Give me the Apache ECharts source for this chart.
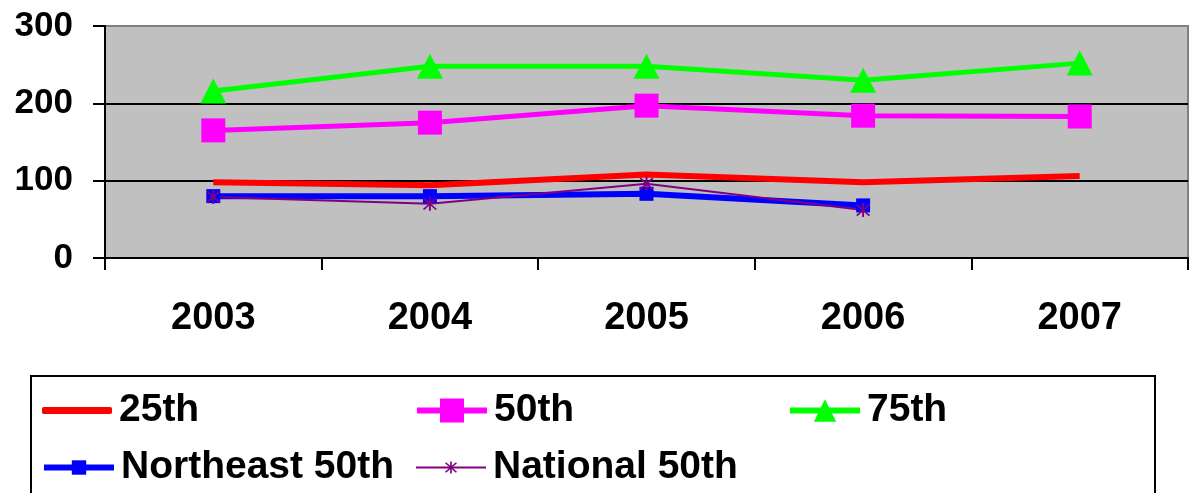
<!DOCTYPE html>
<html>
<head>
<meta charset="utf-8">
<script src="https://cdn.jsdelivr.net/npm/echarts@6/dist/echarts.min.js"></script>
<style>
html,body{margin:0;padding:0;background:#fff;}
#chart{width:1189px;height:493px;}
</style>
</head>
<body>
<div id="chart"></div>
<script>
const categories = ['2003', '2004', '2005', '2006', '2007'];
const p25 = [98, 94, 108, 98, 106];
const p50 = [165, 175, 197, 184, 183];
const p75 = [216, 248, 248, 230, 252];
const northeast50 = [80, 80, 83, 68, null];
const national50 = [79, 70, 96, 62, null];
const yTicks = [0, 100, 200, 300];

const FONT = '"Liberation Sans", Arial, sans-serif';
const asterisk = 'path://M4.4,0 L5.6,0 L5.6,10 L4.4,10 Z M0.6,1.4 L1.4,0.6 L9.4,8.6 L8.6,9.4 Z M8.6,0.6 L9.4,1.4 L1.4,9.4 L0.6,8.6 Z';

function legendFor(item, left, top, itemHeight, lineWidth) {
  return {
    data: [item], left: left, top: top,
    itemWidth: 70, itemHeight: itemHeight,
    selectedMode: false, padding: 0,
    lineStyle: {width: lineWidth},
    textStyle: {fontSize: 39, fontWeight: 'bold', fontFamily: FONT, color: '#000', padding: [0, 0, 0, 2]}
  };
}

const chart = echarts.init(document.getElementById('chart'), null, {renderer: 'canvas'});
chart.setOption({
  animation: false,
  backgroundColor: '#fff',
  grid: {left: 105, right: 1, top: 26, bottom: 235, show: true, backgroundColor: '#C0C0C0', borderColor: '#808080', borderWidth: 2, containLabel: false},
  xAxis: {
    type: 'category', data: categories, boundaryGap: true,
    axisLine: {lineStyle: {color: '#000', width: 2}},
    axisTick: {show: true, length: 12, lineStyle: {color: '#000', width: 2}},
    axisLabel: {fontSize: 38, fontWeight: 'bold', fontFamily: FONT, color: '#000', margin: 42}
  },
  yAxis: {
    type: 'value', min: yTicks[0], max: yTicks[yTicks.length - 1], interval: 100,
    axisLine: {show: true, lineStyle: {color: '#000', width: 2}},
    axisTick: {show: true, length: 12, lineStyle: {color: '#000', width: 2}},
    axisLabel: {fontSize: 35, fontWeight: 'bold', fontFamily: FONT, color: '#000', margin: 32},
    splitLine: {show: true, lineStyle: {color: ['#000', '#000', '#000', '#808080'], width: 2}}
  },
  legend: [
    legendFor({name: '25th', icon: 'roundRect'}, 42, 391, 7, 6),
    legendFor({name: '50th'}, 414, 391, 30, 6),
    legendFor({name: '75th'}, 787, 391, 28, 6),
    legendFor({name: 'Northeast 50th'}, 41, 448, 18, 6),
    legendFor({name: 'National 50th'}, 415, 448, 15, 2)
  ],
  graphic: [{
    type: 'rect', shape: {x: 31, y: 376, width: 1124, height: 140},
    style: {fill: 'none', stroke: '#000', lineWidth: 2}, silent: true, z: -1
  }],
  series: [
    {name: '25th', type: 'line', data: p25, showSymbol: false, symbol: 'none',
     lineStyle: {color: '#FF0000', width: 6}, itemStyle: {color: '#FF0000'}},
    {name: '50th', type: 'line', data: p50, symbol: 'rect', symbolSize: 24,
     lineStyle: {color: '#FF00FF', width: 5}, itemStyle: {color: '#FF00FF'}},
    {name: '75th', type: 'line', data: p75, symbol: 'triangle', symbolSize: [26, 25],
     lineStyle: {color: '#00FF00', width: 5}, itemStyle: {color: '#00FF00'}},
    {name: 'Northeast 50th', type: 'line', data: northeast50, symbol: 'rect', symbolSize: 14,
     lineStyle: {color: '#0000FF', width: 6}, itemStyle: {color: '#0000FF'}},
    {name: 'National 50th', type: 'line', data: national50, symbol: asterisk, symbolSize: 14,
     lineStyle: {color: '#800080', width: 2}, itemStyle: {color: '#800080'}}
  ]
});
</script>
</body>
</html>
